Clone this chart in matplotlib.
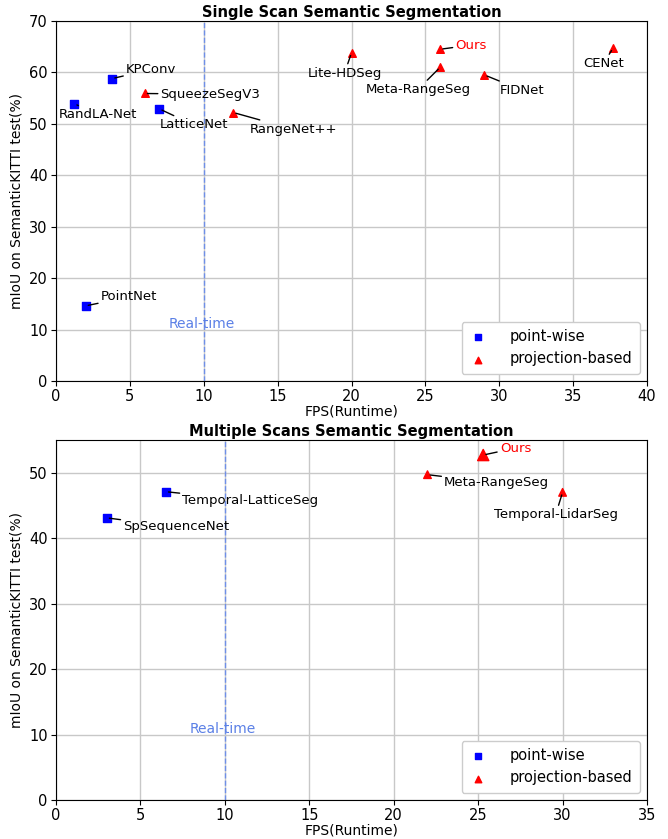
import matplotlib
matplotlib.use("Agg")
import matplotlib.pyplot as plt

# Single scan: point-wise methods
single_pw_names = ['PointNet', 'RandLA-Net', 'KPConv', 'LatticeNet']
single_pw_fps = [2.0, 1.25, 3.8, 7.0]
single_pw_miou = [14.6, 53.9, 58.8, 52.9]

# Single scan: projection-based methods
single_pb_names = ['SqueezeSegV3', 'RangeNet++', 'Lite-HDSeg', 'Ours', 'Meta-RangeSeg', 'FIDNet', 'CENet']
single_pb_fps = [6.0, 12.0, 20.0, 26.0, 26.0, 29.0, 37.7]
single_pb_miou = [55.9, 52.2, 63.8, 64.5, 61.0, 59.5, 64.7]

# Multiple scans
multi_pw_names = ['SpSequenceNet', 'Temporal-LatticeSeg']
multi_pw_fps = [3.0, 6.5]
multi_pw_miou = [43.1, 47.1]

multi_pb_names = ['Meta-RangeSeg', 'Temporal-LidarSeg', 'Ours']
multi_pb_fps = [22.0, 30.0, 25.3]
multi_pb_miou = [49.7, 47.0, 52.7]

# label offsets in points (layout only) + alignment
single_pw_off = [((11, 6.5), 'left'), ((-11, -8), 'left'), ((10, 6.5), 'left'), ((0, -11.5), 'left')]
single_pb_off = [((11.5, -0.5), 'left'), ((11.5, -12), 'left'), ((-5, -14.5), 'center'),
                 ((11, 3), 'left'), ((-16, -16), 'center'), ((11, -11), 'left'), ((-7, -11), 'center')]
multi_pw_off = [((12, -6.5), 'left'), ((12, -6.5), 'left')]
multi_pb_off = [((12, -6), 'left'), ((-5, -16), 'center'), ((12, 5), 'left')]

RT_COLOR = '#6f8fe8'
TEXT_RT = '#5b80e6'


def label_points(ax, names, xs, ys, offsets):
    for name, x, y, (off, ha) in zip(names, xs, ys, offsets):
        col = 'red' if name == 'Ours' else 'black'
        ax.annotate(name, xy=(x, y), xytext=off, textcoords='offset points',
                    ha=ha, va='center', fontsize=9.5, color=col,
                    arrowprops=dict(arrowstyle='-', color='black', lw=1, shrinkA=0, shrinkB=2))


def style_axes(ax, title, xmax, ymax):
    ax.set_xlim(0, xmax)
    ax.set_ylim(0, ymax)
    ax.set_title(title, fontsize=10.5, fontweight='bold', pad=3)
    ax.set_xlabel('FPS(Runtime)', fontsize=10, labelpad=0)
    ax.set_ylabel('mIoU on SemanticKITTI test(%)', fontsize=10)
    ax.grid(True, color='#c8c8c8', linewidth=1)
    ax.set_axisbelow(True)
    ax.tick_params(labelsize=10.5, pad=2.5)
    ax.axvline(10, color=RT_COLOR, linestyle='--', linewidth=1)
    leg = ax.legend(loc='lower right', fontsize=10.5, scatterpoints=1, handlelength=1.3,
                    handletextpad=1.5, borderpad=0.5, framealpha=1)
    for h in leg.legend_handles:
        h.set_sizes([22])


fig = plt.figure(figsize=(6.68, 8.39), dpi=100)
ax1 = fig.add_axes([0.0838, 0.5459, 0.8848, 0.4291])
ax2 = fig.add_axes([0.0838, 0.0465, 0.8848, 0.4291])

# top
ax1.scatter(single_pw_fps, single_pw_miou, marker='s', color='blue', s=30, label='point-wise', zorder=3)
ax1.scatter(single_pb_fps, single_pb_miou, marker='^', color='red', s=30, label='projection-based', zorder=3)
label_points(ax1, single_pw_names, single_pw_fps, single_pw_miou, single_pw_off)
label_points(ax1, single_pb_names, single_pb_fps, single_pb_miou, single_pb_off)
ax1.text(7.6, 11, 'Real-time', color=TEXT_RT, fontsize=10, va='center')
style_axes(ax1, 'Single Scan Semantic Segmentation', 40, 70)

# bottom
ax2.scatter(multi_pw_fps, multi_pw_miou, marker='s', color='blue', s=30, label='point-wise', zorder=3)
sizes = [65 if n == 'Ours' else 30 for n in multi_pb_names]
ax2.scatter(multi_pb_fps, multi_pb_miou, marker='^', color='red', s=sizes, label='projection-based', zorder=3)
label_points(ax2, multi_pw_names, multi_pw_fps, multi_pw_miou, multi_pw_off)
label_points(ax2, multi_pb_names, multi_pb_fps, multi_pb_miou, multi_pb_off)
ax2.text(7.9, 10.8, 'Real-time', color=TEXT_RT, fontsize=10, va='center')
style_axes(ax2, 'Multiple Scans Semantic Segmentation', 35, 55)
ax2.set_yticks([0, 10, 20, 30, 40, 50])

fig.savefig('out.png', dpi=100)
